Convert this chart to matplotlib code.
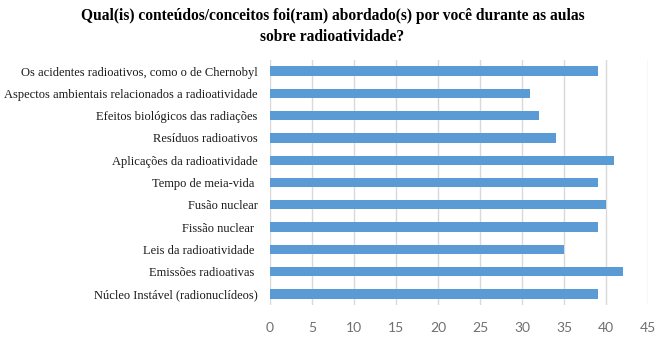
import matplotlib
matplotlib.use("Agg")
import matplotlib.pyplot as plt

# categories from bottom to top
categories = [
    "Núcleo Instável (radionuclídeos)",
    "Emissões radioativas ",
    "Leis da radioatividade ",
    "Fissão nuclear ",
    "Fusão nuclear",
    "Tempo de meia-vida ",
    "Aplicações da radioatividade",
    "Resíduos radioativos",
    "Efeitos biológicos das radiações",
    "Aspectos ambientais relacionados a radioatividade",
    "Os acidentes radioativos, como o de Chernobyl",
]
values = [39, 42, 35, 39, 40, 39, 41, 34, 32, 31, 39]
xticks = list(range(0, 50, 5))

title = ("Qual(is) conteúdos/conceitos foi(ram) abordado(s) por você durante as aulas\n"
         "sobre radioatividade?")

fig = plt.figure(figsize=(6.65, 3.37), dpi=100)
ax = fig.add_axes([270/665, 1-305/337, (648-270)/665, (305-60)/337])

ax.barh(range(len(categories)), values, height=0.42, color="#5B9BD5", zorder=3)
ax.set_ylim(-0.5, len(categories)-0.5)
ax.set_xlim(0, 45)
ax.set_xticks(xticks)
ax.set_yticks(range(len(categories)))
ax.set_yticklabels(categories, family="Liberation Serif", fontsize=9, color="#1a1a1a")
for lab in ax.get_xticklabels():
    lab.set_family("Lato")
    lab.set_fontsize(10)
    lab.set_color("#707070")
ax.tick_params(axis="y", length=0, pad=9)
ax.tick_params(axis="x", length=0, pad=12)
ax.grid(axis="x", color="#d9d9d9", linewidth=1, zorder=0)
for s in ax.spines.values():
    s.set_visible(False)

fig.text(0.5, 0.975, title, ha="center", va="top", family="Liberation Serif",
         fontweight="bold", fontsize=11.2, linespacing=1.4)

fig.savefig("out.png", dpi=100)
